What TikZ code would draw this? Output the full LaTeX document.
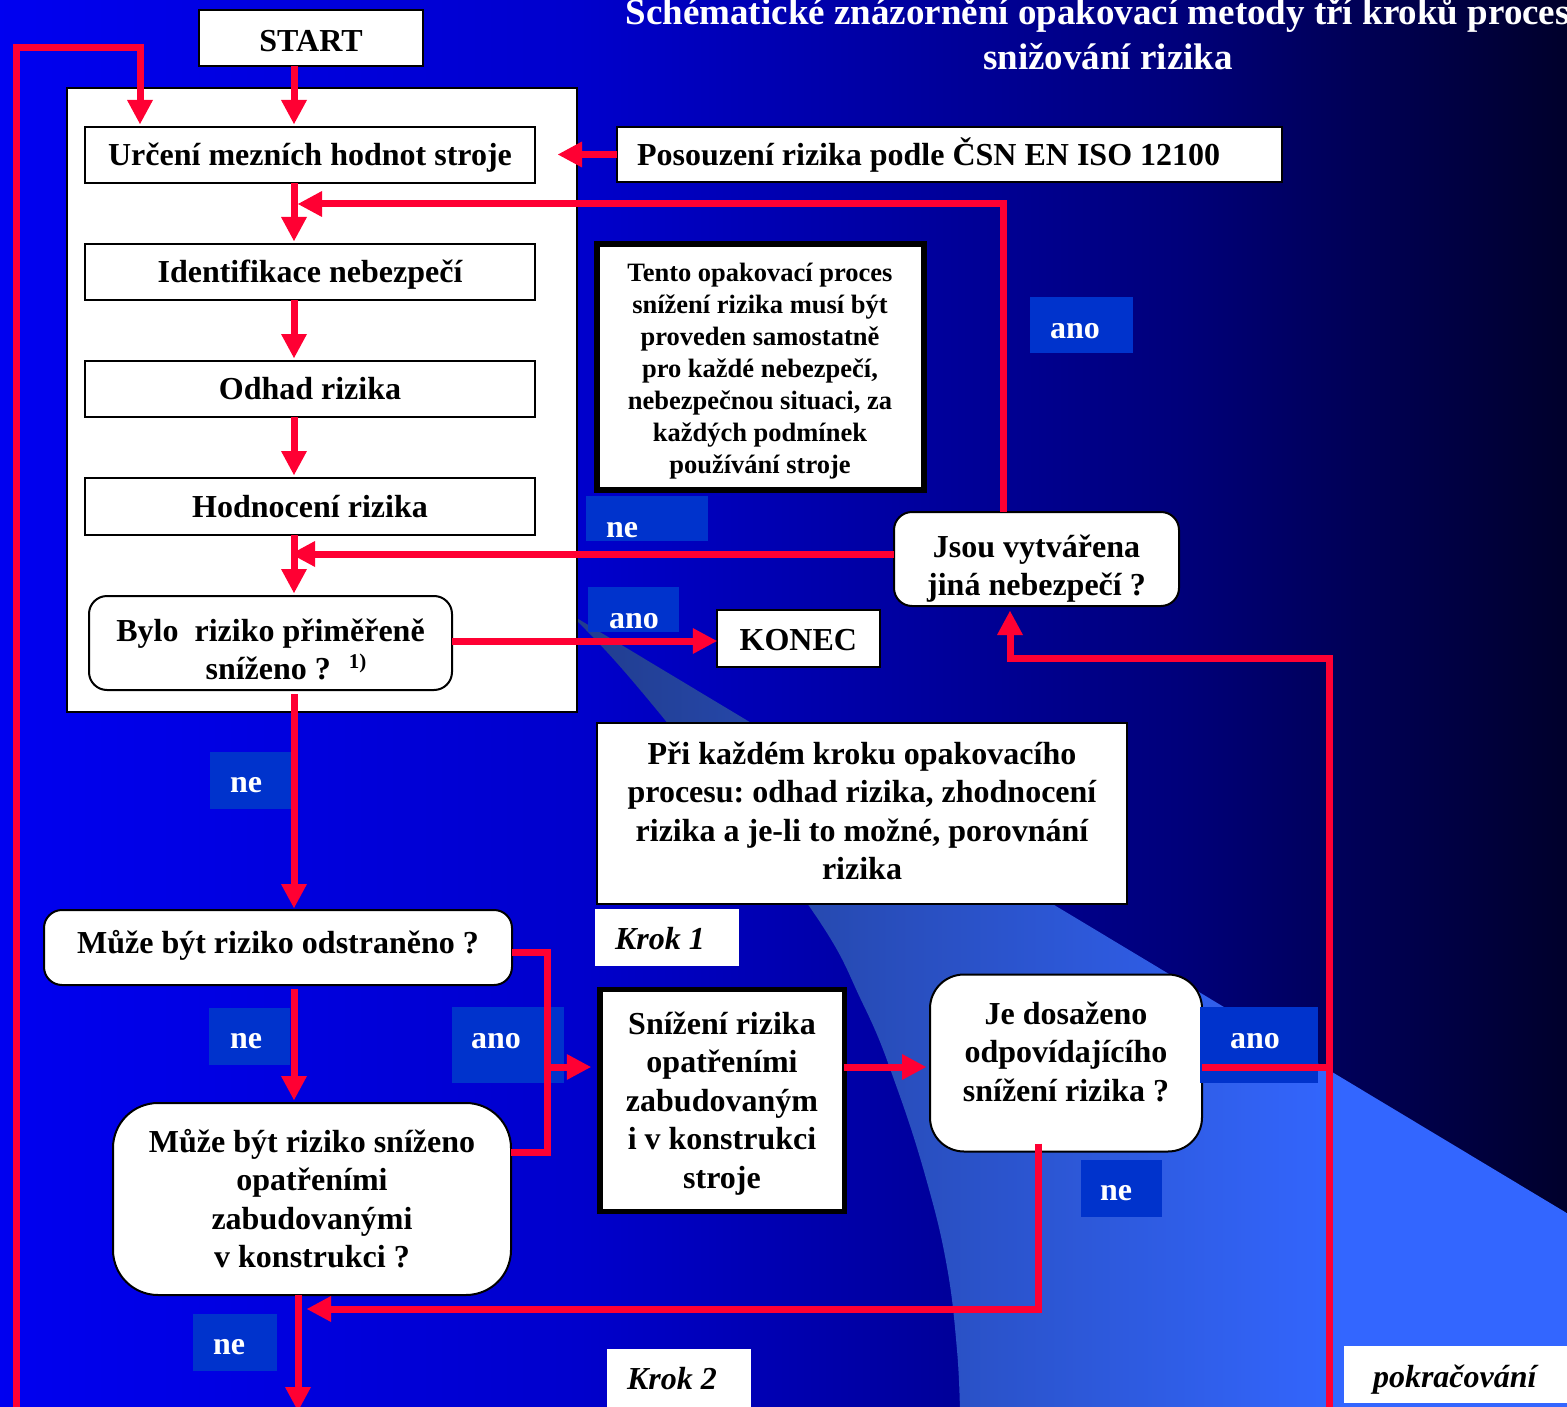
\documentclass[tikz,border=0pt]{standalone}
\usepackage{fontspec}
\setmainfont{Liberation Serif}
\usetikzlibrary{arrows.meta}
\frenchspacing

\definecolor{flowred}{HTML}{FF0033}
\definecolor{tagblue}{HTML}{0033CC}

% backdrop: blue fading to navy from left to right
\pgfdeclarehorizontalshading{bgshade}{100bp}{%
  rgb(0bp)=(0,0,0.94); rgb(25bp)=(0,0,0.94); rgb(43.5bp)=(0,0,0.8);
  rgb(62.6bp)=(0,0,0.48); rgb(75bp)=(0,0,0.17); rgb(100bp)=(0,0,0.17)}
% lighter sweep across the lower right
\pgfdeclarehorizontalshading{swshade}{100bp}{%
  rgb(0bp)=(0.13,0.24,0.56); rgb(27bp)=(0.13,0.24,0.56);
  rgb(64bp)=(0.2,0.4,1); rgb(100bp)=(0.2,0.4,1)}

% struts giving first and last lines a uniform ascent/descent
\newcommand\topst[1][0pt]{\rule{0pt}{\dimexpr0.891em+#1\relax}}
\newcommand\botst[1][0pt]{\rule[-\dimexpr0.216em+#1\relax]{0pt}{\dimexpr0.216em+#1\relax}}

\tikzset{
  every node/.style={outer sep=0pt},
  box/.style={draw=black, line width=2pt, fill=white, inner sep=0pt, align=center,
    text=black, font=\bfseries\fontsize{32}{38.5}\selectfont},
  rbox/.style={box, rounded corners=18pt},
  tag/.style={fill=tagblue, text=white, inner ysep=0pt, align=flush left, anchor=base west,
    font=\bfseries\fontsize{32}{38.5}\selectfont},
  krok/.style={fill=white, text=black, inner ysep=0pt, align=flush left, anchor=base west,
    font=\bfseries\itshape\fontsize{32}{38.5}\selectfont},
  titletxt/.style={text=white, inner sep=0pt, anchor=base,
    font=\bfseries\fontsize{37}{44}\selectfont},
  flowline/.style={draw=flowred, line width=7pt},
  flow/.style={flowline, -{Triangle[length=24pt, width=26pt, line width=0pt]}},
}

\begin{document}
\begin{tikzpicture}[x=1pt, y=-1pt]
\useasboundingbox (0,0) rectangle (1567,1407);
\clip (0,0) rectangle (1567,1407);

% background
\shade[shading=bgshade] (0,0) rectangle (1567,1407);
\shade[shading=swshade] (540,596) -- (1570,1215) -- (1570,1412) -- (960,1412)
  -- plot[smooth, tension=0.7] coordinates {(960,1412) (957,1350) (947,1267) (927,1182)
     (897,1088) (863,1004) (807,903) (665,720) (577,621) (540,596)} -- cycle;

% title
\node[titletxt] (title1) at (1108,25) {Schématické znázornění opakovací metody tří kroků procesu};
\node[titletxt] (title2) at (1108,70) {snižování rizika};

% white panel holding the first steps
\node[box, minimum width=510pt, minimum height=624pt] (panel) at (322,400) {};

% boxes
\node[box, minimum width=224pt, minimum height=56pt] (start) at (311,38) {\topst[6pt]START\botst};
\node[box, minimum width=450pt, minimum height=56pt] (urceni) at (310,155) {\topst Určení mezních hodnot stroje\botst};
\node[box, minimum width=450pt, minimum height=56pt] (ident) at (310,272) {\topst Identifikace nebezpečí\botst};
\node[box, minimum width=450pt, minimum height=56pt] (odhad) at (310,389) {\topst Odhad rizika\botst};
\node[box, minimum width=450pt, minimum height=57pt] (hodn) at (310,506.5) {\topst Hodnocení rizika\botst};
\node[rbox, minimum width=363pt, minimum height=94pt] (bylo) at (270.5,643)
  {\topst[13pt]Bylo~~riziko přiměřeně\\\hspace*{31pt}sníženo ?\hspace{18pt}\raisebox{11pt}{\fontsize{21}{21}\selectfont 1)}\botst};

\node[box, text width=625pt, inner xsep=20pt, align=flush left, minimum height=55pt] (posouz) at (949.5,154.5)
  {\topst Posouzení rizika podle ČSN EN ISO 12100\botst};
\node[box, line width=6pt, minimum width=327pt, minimum height=246.5pt,
  font=\bfseries\fontsize{26.5}{32}\selectfont] (tento) at (760,367)
  {\topst[3pt]Tento opakovací proces\\snížení rizika musí být\\proveden samostatně\\pro každé nebezpečí,\\nebezpečnou situaci, za\\každých podmínek\\používání stroje\botst};
\node[box, minimum width=163pt, minimum height=57pt] (konec) at (798.3,638) {\topst[4pt]KONEC\botst};
\node[rbox, minimum width=285pt, minimum height=94pt] (jsou) at (1036.5,559)
  {\topst[13pt]Jsou vytvářena\\jiná nebezpečí ?\botst};
\node[box, minimum width=530pt, minimum height=180.5pt] (pri) at (862,813.5)
  {\topst Při každém kroku opakovacího\\procesu: odhad rizika, zhodnocení\\rizika a je-li to možné, porovnání\\rizika\botst[5pt]};
\node[rbox, minimum width=468pt, minimum height=75pt] (odstr) at (278,947.5)
  {\topst Může být riziko odstraněno ?\botst[10pt]};
\node[box, line width=5.5pt, minimum width=244.5pt, minimum height=222pt] (sniz) at (722,1100.6)
  {\topst Snížení rizika\\opatřeními\\zabudovaným\\i v konstrukci\\stroje\botst};
\node[rbox, rounded corners=34pt, minimum width=272pt, minimum height=177pt] (jedos) at (1066,1063)
  {\topst Je dosaženo\\odpovídajícího\\snížení rizika ?\botst[22.6pt]};
\node[rbox, rounded corners=45pt, minimum width=398pt, minimum height=192pt] (snizeno) at (312,1199)
  {\topst Může být riziko sníženo\\opatřeními\\zabudovanými\\v konstrukci ?\botst};

% step captions
\node[krok, inner xsep=20pt, text width=104pt, text height=40pt, text depth=17pt] (krok1) at (595,949) {Krok 1};
\node[krok, inner xsep=20pt, text width=104pt, text height=40pt, text depth=21pt] (krok2) at (607,1389) {Krok 2};
\node[krok, inner xsep=29pt, text width=178pt, text height=41pt, text depth=16pt] (pokr) at (1344,1387) {pokračování};

% answer tags
\node[tag, inner xsep=20pt, text width=63pt, text height=41pt, text depth=15pt] (tagA) at (1030,338) {ano};
\node[tag, inner xsep=20pt, text width=82pt, text height=41pt, text depth=4pt] (tagB) at (586,537) {ne};
\node[tag, inner xsep=21pt, text width=49pt, text height=41pt, text depth=4pt] (tagC) at (588,628) {ano};
\node[tag, inner xsep=20pt, text width=42pt, text height=40pt, text depth=17pt] (tagD) at (210,792) {ne};
\node[tag, inner xsep=21pt, text width=39pt, text height=40pt, text depth=17pt] (tagE) at (209,1048) {ne};
\node[tag, inner xsep=19pt, text width=74pt, text height=41pt, text depth=35pt] (tagF) at (452,1048) {ano};
\node[tag, inner xsep=30pt, text width=58pt, text height=41pt, text depth=35pt] (tagG) at (1200,1048) {ano};
\node[tag, inner xsep=19pt, text width=43pt, text height=40pt, text depth=17pt] (tagH) at (1081,1200) {ne};
\node[tag, inner xsep=20pt, text width=44pt, text height=40pt, text depth=17pt] (tagI) at (193,1354) {ne};

% routing points
\coordinate (colA) at (294,0);
\coordinate (loopfoot) at (16,1415);
\coordinate (loopx) at (140,48);
\coordinate (merge1) at (298,204);
\coordinate (jsoutop) at (1003,0);
\coordinate (merge2) at (291,554);
\coordinate (brkbot) at (547,1152);
\coordinate (brkmid) at (547,1067);
\coordinate (riser) at (1329,658);
\coordinate (risefoot) at (1329,1415);
\coordinate (jup) at (1010,0);
\coordinate (dropx) at (1038,0);
\coordinate (retn) at (307,1309);
\coordinate (exitfoot) at (298,1411);

% connectors
\draw[flow] (start.south -| colA) -- ([yshift=3pt]urceni.north -| colA);
\draw[flow] (loopfoot) |- (loopx) -- ([yshift=3pt]urceni.north -| loopx);
\draw[flow] (posouz.west) -- ([xshift=23pt]urceni.east |- posouz.west);
\draw[flow] (urceni.south -| colA) -- ([yshift=3pt]ident.north -| colA);
\draw[flow] (ident.south -| colA) -- ([yshift=3pt]odhad.north -| colA);
\draw[flow] (odhad.south -| colA) -- ([yshift=3pt]hodn.north -| colA);
\draw[flow] (hodn.south -| colA) -- ([yshift=3pt]bylo.north -| colA);
\draw[flow] (jsou.north -| jsoutop) |- (merge1);
\draw[flow] (jsou.west |- merge2) -- (merge2);
\draw[flow] ([yshift=2pt]bylo.east) -- ([yshift=2pt]bylo.east -| konec.west);
\draw[flow] ([yshift=-4pt]bylo.south -| colA) -- ([yshift=2pt]odstr.north -| colA);
\draw[flow] ([yshift=-4pt]odstr.south -| colA) -- ([yshift=3pt]snizeno.north -| colA);
\draw[flowline] ([yshift=-4.5pt]odstr.east) -| (brkbot) -- (snizeno.east |- brkbot);
\draw[flow] (brkmid) -- ([xshift=-9pt]sniz.west |- brkmid);
\draw[flow] (sniz.east |- brkmid) -- ([xshift=-4pt]jedos.west |- brkmid);
\draw[flowline] (jedos.east |- brkmid) -- (brkmid -| riser);
\draw[flow] (risefoot) -- (riser) -| ([yshift=-5pt]jsou.south -| jup);
\draw[flow] ([yshift=8pt]jedos.south -| dropx) |- (retn);
\draw[flow] (snizeno.south -| exitfoot) -- (exitfoot);
\end{tikzpicture}
\end{document}
